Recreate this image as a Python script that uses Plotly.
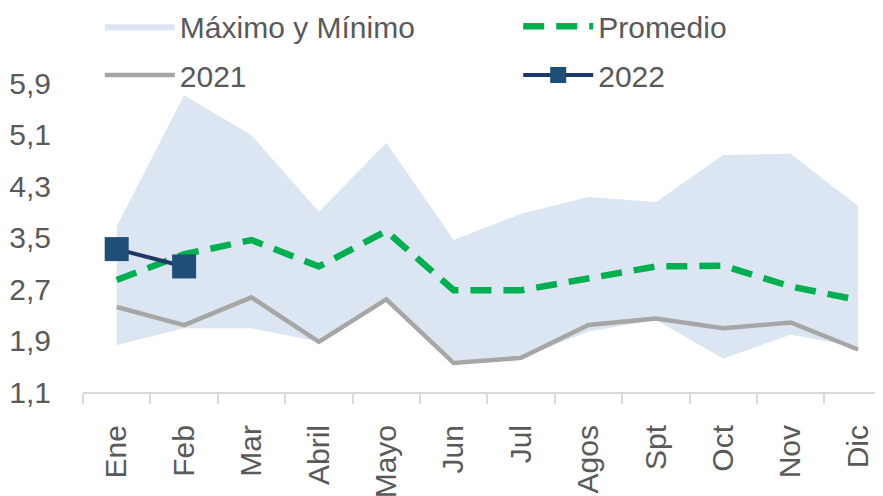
import plotly.graph_objects as go

months = ["Ene", "Feb", "Mar", "Abril", "Mayo", "Jun", "Jul", "Agos", "Spt", "Oct", "Nov", "Dic"]
max_vals = [3.67, 5.71, 5.09, 3.90, 4.97, 3.46, 3.87, 4.13, 4.05, 4.78, 4.80, 3.99]
min_vals = [1.83, 2.09, 2.09, 1.88, 2.54, 1.55, 1.63, 2.04, 2.22, 1.62, 1.99, 1.80]
promedio = [2.84, 3.24, 3.46, 3.05, 3.60, 2.68, 2.68, 2.87, 3.05, 3.06, 2.74, 2.53]
y2021 = [2.42, 2.14, 2.57, 1.88, 2.54, 1.55, 1.63, 2.14, 2.24, 2.09, 2.18, 1.76]
months_2022 = ["Ene", "Feb"]
y2022 = [3.32, 3.05]
ytick_vals = [1.1, 1.9, 2.7, 3.5, 4.3, 5.1, 5.9]

FONT = "Liberation Sans, Arial, sans-serif"
TXT = "#595959"
FS = 30

fig = go.Figure()
fig.add_trace(go.Scatter(x=months, y=min_vals, mode="lines", line=dict(width=0, color="#dce6f2"),
                         showlegend=False, hoverinfo="skip"))
fig.add_trace(go.Scatter(x=months, y=max_vals, mode="lines", line=dict(width=0, color="#dce6f2"),
                         fill="tonexty", fillcolor="#dce6f2", name="Máximo y Mínimo", legend="legend"))
fig.add_trace(go.Scatter(x=months, y=promedio, mode="lines", name="Promedio", legend="legend2",
                         line=dict(color="#00b050", width=6.5, dash="21px,12px")))
fig.add_trace(go.Scatter(x=months, y=y2021, mode="lines", name="2021", legend="legend3",
                         line=dict(color="#a6a6a6", width=4.5)))
fig.add_trace(go.Scatter(x=months_2022, y=y2022, mode="lines+markers", name="2022", legend="legend4",
                         line=dict(color="#1f3864", width=4),
                         marker=dict(symbol="square", size=24, color="#1f4e79")))

leg_common = dict(orientation="h", xanchor="left", yanchor="middle", itemwidth=70,
                  font=dict(family=FONT, size=FS, color=TXT), traceorder="normal",
                  bgcolor="rgba(0,0,0,0)")

# the page adds an 8px body margin, so the figure is 8px smaller than the window
fig.update_layout(
    width=875, height=488,
    margin=dict(l=75, r=0, t=75, b=104, autoexpand=False),
    plot_bgcolor="white", paper_bgcolor="white",
    separators=", ",
    font=dict(family=FONT, size=FS, color=TXT),
    legend=dict(x=0.021, y=1.184, **leg_common),
    legend2=dict(x=0.544, y=1.184, **leg_common),
    legend3=dict(x=0.021, y=1.026, **leg_common),
    legend4=dict(x=0.544, y=1.026, **leg_common),
    xaxis=dict(type="category", categoryorder="array", categoryarray=months,
               range=[-0.5, 11.37], tickangle=-90, showgrid=False,
               showline=True, linecolor="#d9d9d9", linewidth=2,
               ticks="outside", tickson="boundaries", ticklen=10, tickcolor="#d9d9d9", tickwidth=2,
               ticklabelstandoff=19,
               tickfont=dict(family=FONT, size=FS, color=TXT)),
    yaxis=dict(range=[1.1, 5.9], tickvals=ytick_vals, tickformat=".1f", showgrid=False,
               showline=False, zeroline=False, ticks="", ticklabelstandoff=31,
               tickfont=dict(family=FONT, size=FS, color=TXT)),
)

fig.write_html("out.html")
